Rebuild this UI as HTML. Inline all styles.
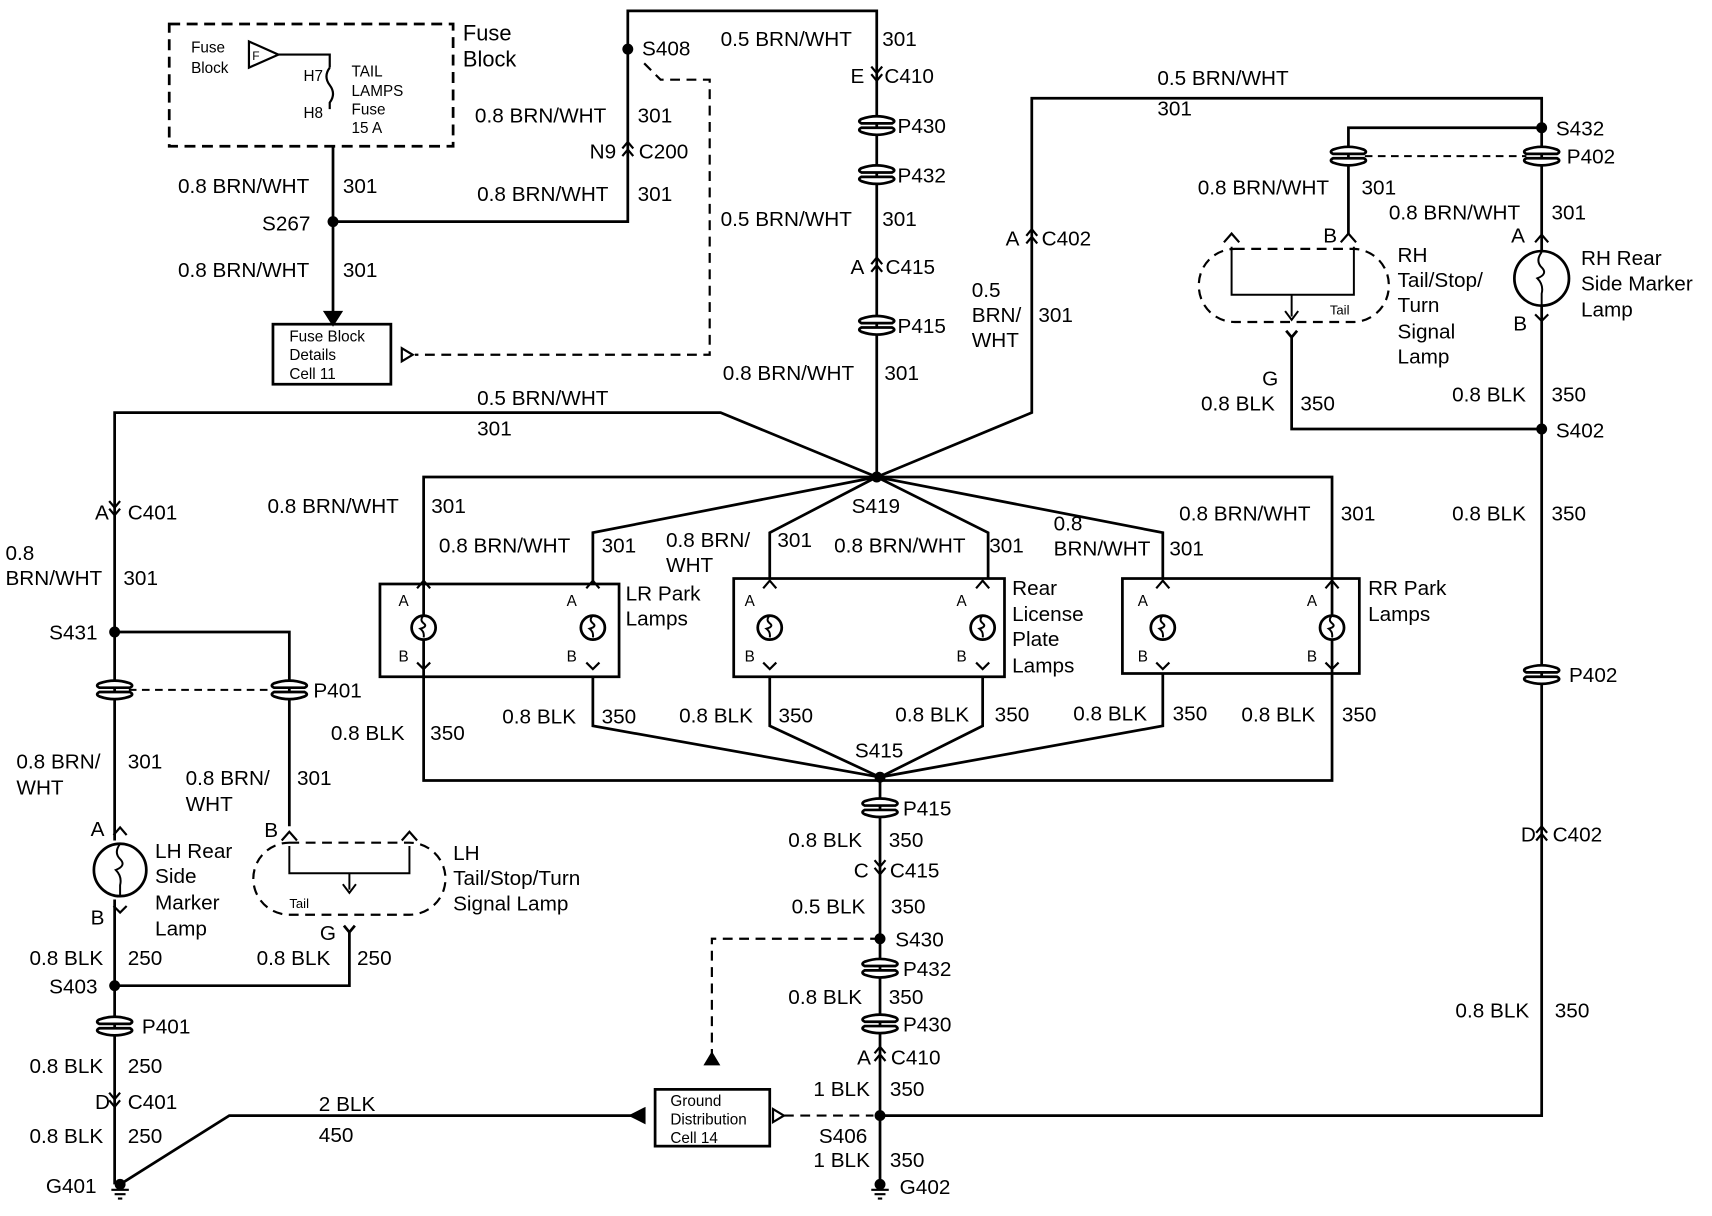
<!DOCTYPE html>
<html><head><meta charset="utf-8"><style>
html,body{margin:0;padding:0;background:#fff}
svg{display:block}
text{font-family:"Liberation Sans",Arial,sans-serif;font-size:19px;fill:#000}
.s{font-size:14px}
.b{font-size:20px}
</style></head><body>
<svg width="1712" height="1216" viewBox="0 0 1568 1114" preserveAspectRatio="none" xmlns="http://www.w3.org/2000/svg">
<defs>
<g id="dot"><circle r="5" fill="#000"/></g>
<g id="pill"><path d="M-14,-6 Q0,-11 14,-6 Q18,-4 14,-2 L-14,-2 Q-18,-4 -14,-6Z M-14,2 L14,2 Q18,4 14,6 Q0,11 -14,6 Q-18,4 -14,2Z" fill="#fff" stroke="#000" stroke-width="2.5"/></g>
<g id="cd"><path d="M-5,-9 L0,-3 L5,-9 M-5,-2 L0,4 L5,-2" fill="none" stroke="#000" stroke-width="2"/></g>
<g id="cu"><path d="M-5,-2 L0,-8 L5,-2 M-5,5 L0,-1 L5,5" fill="none" stroke="#000" stroke-width="2"/></g>
<g id="lamp"><path d="M-6,-36 L0,-43 L6,-36" fill="none" stroke="#000" stroke-width="2"/><circle r="11" fill="#fff" stroke="#000" stroke-width="2.5"/><path d="M0,-11 q-4,4 0,7 q4,3 -3,5 q4,3 3,8" fill="none" stroke="#000" stroke-width="1.8"/><path d="M-6,32 L0,38 L6,32" fill="none" stroke="#000" stroke-width="2"/></g>
<g id="gnd"><path d="M-8,0 H8 M-5,4 H5 M-2,8 H2" stroke="#000" stroke-width="2"/></g>
</defs>
<g fill="none" stroke="#000" stroke-width="2.5">
<!-- fuse block -->
<rect x="155" y="22" width="260" height="112" stroke-dasharray="10,6"/>
<path d="M228,38 V62 L255,50Z" stroke-width="2"/>
<path d="M255,50 H302 V62 M302,62 q-6,8 0,16 q6,8 0,16 V100" stroke-width="2"/>
<path d="M305,134 V203 H575 V10 H803 V437"/>
<path d="M305,203 V288"/>
<path d="M298,286 L305,297 L312,286Z" fill="#000"/>
<rect x="250" y="297" width="108" height="55"/>
<path d="M590,58 L605,73 H650 V325 H380" stroke-dasharray="9,6" stroke-width="2"/>
<path d="M368,319 L378,325 L368,331Z" stroke-width="2"/>
<!-- top wires -->
<path d="M803,437 L660,378 H105 V579"/>
<path d="M803,437 L945,378 V90 H1412 V395"/>
<!-- box -->
<path d="M388,437 H1220 V715 H388Z"/>
<path d="M803,437 L543,488 V535 M803,437 L705,488 V530 M803,437 L905,488 V530 M803,437 L1065,488 V530"/>
<path d="M543,620 V665 L806,712 M705,620 V665 L806,712 M900,620 V665 L806,712 M1065,617 V665 L806,712"/>
<rect x="348" y="535" width="219" height="85"/>
<rect x="672" y="530" width="248" height="90"/>
<rect x="1028" y="530" width="217" height="87"/>
<path d="M806,712 V1085"/>
<path d="M806,860 H652 V972" stroke-dasharray="9,6" stroke-width="2"/>
<path d="M646,975 L652,965 L658,975Z" stroke-width="2" fill="#000"/>
<path d="M806,1022 H1412 V395"/>
<path d="M718,1022 H800" stroke-dasharray="9,6" stroke-width="2"/>
<path d="M708,1016 L718,1022 L708,1028Z" stroke-width="2"/>
<rect x="600" y="998" width="105" height="52"/>
<path d="M588,1022 H210 L110,1085"/>
<path d="M590,1016 L578,1022 L590,1028Z" fill="#000"/>
<!-- left side -->
<path d="M105,579 V770 M105,824 V1085"/>
<path d="M105,579 H265 V757"/>
<path d="M118,632 H250" stroke-dasharray="7,5" stroke-width="1.8"/>
<circle cx="110" cy="797" r="24"/>
<path d="M110,773 q-6,8 0,14 q6,6 -4,10 q6,6 4,14 V821" stroke-width="1.8"/>
<path d="M104,765 L110,758 L116,765 M104,830 L110,836 L116,830" stroke-width="2"/>
<rect x="232" y="772" width="176" height="66" rx="33" stroke-dasharray="9,6" stroke-width="2"/>
<path d="M258,770 L265,762 L272,770 M368,770 L375,762 L382,770" stroke-width="2"/>
<path d="M265,775 V800 H375 V775 M320,800 V815 M314,810 L320,818 L326,810" stroke-width="1.8"/>
<path d="M315,848 L320,854 L325,848 M320,854 V903 H105" />
<!-- right side -->
<path d="M1412,117 H1235 V215"/>
<path d="M1250,143 H1398" stroke-dasharray="7,5" stroke-width="1.8"/>
<rect x="1098" y="228" width="174" height="67" rx="33" stroke-dasharray="9,6" stroke-width="2"/>
<path d="M1228,222 L1235,214 L1242,222 M1121,222 L1128,214 L1135,222" stroke-width="2"/>
<path d="M1128,226 V270 H1240 V226 M1183,270 V290 M1177,285 L1183,293 L1189,285" stroke-width="1.8"/>
<path d="M1178,303 L1183,309 L1188,303 M1183,309 V393 H1412"/>
<circle cx="1412" cy="255" r="25" fill="#fff"/>
<path d="M1412,231 q-6,8 0,14 q6,6 -4,10 q6,6 4,14 V280" stroke-width="1.8"/>
<path d="M1406,222 L1412,215 L1418,222 M1406,288 L1412,294 L1418,288" stroke-width="2"/>
</g>
<!-- symbols -->
<use href="#dot" x="575" y="45"/><use href="#dot" x="305" y="203"/><use href="#dot" x="803" y="437"/><use href="#dot" x="806" y="712"/>
<use href="#dot" x="806" y="860"/><use href="#dot" x="806" y="1022"/><use href="#dot" x="105" y="579"/><use href="#dot" x="105" y="903"/>
<use href="#dot" x="1412" y="117"/><use href="#dot" x="1412" y="393"/>
<use href="#pill" x="803" y="115"/><use href="#pill" x="803" y="160"/><use href="#pill" x="803" y="298"/><use href="#pill" x="806" y="740"/>
<use href="#pill" x="806" y="887"/><use href="#pill" x="806" y="938"/><use href="#pill" x="105" y="632"/><use href="#pill" x="265" y="632"/>
<use href="#pill" x="105" y="940"/><use href="#pill" x="1235" y="143"/><use href="#pill" x="1412" y="143"/><use href="#pill" x="1412" y="618"/>
<use href="#cd" x="803" y="70"/><use href="#cu" x="575" y="138"/><use href="#cu" x="803" y="244"/><use href="#cu" x="945" y="218"/>
<use href="#cd" x="105" y="468"/><use href="#cd" x="806" y="797"/><use href="#cu" x="806" y="967"/><use href="#cd" x="105" y="1010"/><use href="#cu" x="1412" y="765"/>
<use href="#lamp" x="388" y="575"/><use href="#lamp" x="543" y="575"/><use href="#lamp" x="705" y="575"/><use href="#lamp" x="900" y="575"/><use href="#lamp" x="1065" y="575"/><use href="#lamp" x="1220" y="575"/>
<use href="#gnd" x="110" y="1090"/><use href="#gnd" x="806" y="1090"/>
<circle cx="110" cy="1085" r="5"/><circle cx="806" cy="1085" r="5"/>
<!-- texts -->
<text class="s" x="175" y="48">Fuse</text><text class="s" x="175" y="67">Block</text>
<text class="s" x="231" y="55" style="font-size:11px">F</text>
<text class="s" x="278" y="74">H7</text><text class="s" x="278" y="108">H8</text>
<text class="s" x="322" y="70">TAIL</text><text class="s" x="322" y="88">LAMPS</text><text class="s" x="322" y="105">Fuse</text><text class="s" x="322" y="122">15 A</text>
<text class="b" x="424" y="37">Fuse</text><text class="b" x="424" y="61">Block</text>
<text class="s" x="265" y="313">Fuse Block</text><text class="s" x="265" y="330">Details</text><text class="s" x="265" y="347">Cell 11</text>
<text x="588" y="51">S408</text>
<text x="660" y="42">0.5 BRN/WHT</text><text x="808" y="42">301</text>
<text x="779" y="76">E</text><text x="810" y="76">C410</text>
<text x="822" y="122">P430</text><text x="822" y="167">P432</text>
<text x="435" y="112">0.8 BRN/WHT</text><text x="584" y="112">301</text>
<text x="540" y="145">N9</text><text x="585" y="145">C200</text>
<text x="437" y="184">0.8 BRN/WHT</text><text x="584" y="184">301</text>
<text x="163" y="177">0.8 BRN/WHT</text><text x="314" y="177">301</text>
<text x="240" y="211">S267</text>
<text x="163" y="254">0.8 BRN/WHT</text><text x="314" y="254">301</text>
<text x="660" y="207">0.5 BRN/WHT</text><text x="808" y="207">301</text>
<text x="779" y="251">A</text><text x="811" y="251">C415</text>
<text x="822" y="305">P415</text>
<text x="662" y="348">0.8 BRN/WHT</text><text x="810" y="348">301</text>
<text x="921" y="225">A</text><text x="954" y="225">C402</text>
<text x="890" y="272">0.5</text><text x="890" y="295">BRN/</text><text x="890" y="318">WHT</text><text x="951" y="295">301</text>
<text x="1060" y="78">0.5 BRN/WHT</text><text x="1060" y="106">301</text>
<text x="1425" y="124">S432</text><text x="1435" y="150">P402</text>
<text x="1097" y="178">0.8 BRN/WHT</text><text x="1247" y="178">301</text>
<text x="1272" y="201">0.8 BRN/WHT</text><text x="1421" y="201">301</text>
<text x="1212" y="222">B</text><text x="1384" y="222">A</text><text x="1386" y="303">B</text>
<text x="1280" y="240">RH</text><text x="1280" y="263">Tail/Stop/</text><text x="1280" y="286">Turn</text><text x="1280" y="310">Signal</text><text x="1280" y="333">Lamp</text>
<text x="1448" y="243">RH Rear</text><text x="1448" y="266">Side Marker</text><text x="1448" y="290">Lamp</text>
<text class="s" x="1218" y="288" style="font-size:12px">Tail</text>
<text x="1156" y="353">G</text><text x="1100" y="376">0.8 BLK</text><text x="1191" y="376">350</text>
<text x="1330" y="368">0.8 BLK</text><text x="1421" y="368">350</text>
<text x="1425" y="401">S402</text>
<text x="1330" y="477">0.8 BLK</text><text x="1421" y="477">350</text>
<text x="1437" y="625">P402</text>
<text x="1393" y="771">D</text><text x="1422" y="771">C402</text>
<text x="1333" y="932">0.8 BLK</text><text x="1424" y="932">350</text>
<text x="437" y="371">0.5 BRN/WHT</text><text x="437" y="399">301</text>
<text x="87" y="476">A</text><text x="117" y="476">C401</text>
<text x="5" y="513">0.8</text><text x="5" y="536">BRN/WHT</text><text x="113" y="536">301</text>
<text x="45" y="586">S431</text><text x="287" y="639">P401</text>
<text x="245" y="470">0.8 BRN/WHT</text><text x="395" y="470">301</text>
<text x="402" y="506">0.8 BRN/WHT</text><text x="551" y="506">301</text>
<text x="610" y="501">0.8 BRN/</text><text x="610" y="524">WHT</text><text x="712" y="501">301</text>
<text x="764" y="506">0.8 BRN/WHT</text><text x="906" y="506">301</text>
<text x="965" y="486">0.8</text><text x="965" y="509">BRN/WHT</text><text x="1071" y="509">301</text>
<text x="1080" y="477">0.8 BRN/WHT</text><text x="1228" y="477">301</text>
<text x="780" y="470">S419</text>
<text class="s" x="365" y="555">A</text><text class="s" x="519" y="555">A</text><text class="s" x="682" y="555">A</text><text class="s" x="876" y="555">A</text><text class="s" x="1042" y="555">A</text><text class="s" x="1197" y="555">A</text>
<text class="s" x="365" y="606">B</text><text class="s" x="519" y="606">B</text><text class="s" x="682" y="606">B</text><text class="s" x="876" y="606">B</text><text class="s" x="1042" y="606">B</text><text class="s" x="1197" y="606">B</text>
<text x="573" y="550">LR Park</text><text x="573" y="573">Lamps</text>
<text x="927" y="545">Rear</text><text x="927" y="569">License</text><text x="927" y="592">Plate</text><text x="927" y="616">Lamps</text>
<text x="1253" y="545">RR Park</text><text x="1253" y="569">Lamps</text>
<text x="303" y="678">0.8 BLK</text><text x="394" y="678">350</text>
<text x="460" y="663">0.8 BLK</text><text x="551" y="663">350</text>
<text x="622" y="662">0.8 BLK</text><text x="713" y="662">350</text>
<text x="820" y="661">0.8 BLK</text><text x="911" y="661">350</text>
<text x="983" y="660">0.8 BLK</text><text x="1074" y="660">350</text>
<text x="1137" y="661">0.8 BLK</text><text x="1229" y="661">350</text>
<text x="783" y="694">S415</text>
<text x="827" y="747">P415</text>
<text x="722" y="776">0.8 BLK</text><text x="814" y="776">350</text>
<text x="782" y="804">C</text><text x="815" y="804">C415</text>
<text x="725" y="837">0.5 BLK</text><text x="816" y="837">350</text>
<text x="820" y="867">S430</text><text x="827" y="894">P432</text>
<text x="722" y="920">0.8 BLK</text><text x="814" y="920">350</text>
<text x="827" y="945">P430</text>
<text x="785" y="975">A</text><text x="816" y="975">C410</text>
<text x="745" y="1004">1 BLK</text><text x="815" y="1004">350</text>
<text x="750" y="1047">S406</text>
<text x="745" y="1069">1 BLK</text><text x="815" y="1069">350</text>
<text x="824" y="1094">G402</text>
<text class="s" x="614" y="1013">Ground</text><text class="s" x="614" y="1030">Distribution</text><text class="s" x="614" y="1047">Cell 14</text>
<text x="292" y="1018">2 BLK</text><text x="292" y="1046">450</text>
<text x="15" y="704">0.8 BRN/</text><text x="15" y="728">WHT</text><text x="117" y="704">301</text>
<text x="170" y="719">0.8 BRN/</text><text x="170" y="743">WHT</text><text x="272" y="719">301</text>
<text x="83" y="766">A</text><text x="83" y="847">B</text><text x="242" y="767">B</text><text x="293" y="861">G</text>
<text x="142" y="786">LH Rear</text><text x="142" y="809">Side</text><text x="142" y="833">Marker</text><text x="142" y="857">Lamp</text>
<text x="415" y="788">LH</text><text x="415" y="811">Tail/Stop/Turn</text><text x="415" y="834">Signal Lamp</text>
<text class="s" x="265" y="832" style="font-size:12px">Tail</text>
<text x="27" y="884">0.8 BLK</text><text x="117" y="884">250</text>
<text x="235" y="884">0.8 BLK</text><text x="327" y="884">250</text>
<text x="45" y="910">S403</text><text x="130" y="947">P401</text>
<text x="27" y="983">0.8 BLK</text><text x="117" y="983">250</text>
<text x="87" y="1016">D</text><text x="117" y="1016">C401</text>
<text x="27" y="1047">0.8 BLK</text><text x="117" y="1047">250</text>
<text x="42" y="1093">G401</text>
</svg>
</body></html>
